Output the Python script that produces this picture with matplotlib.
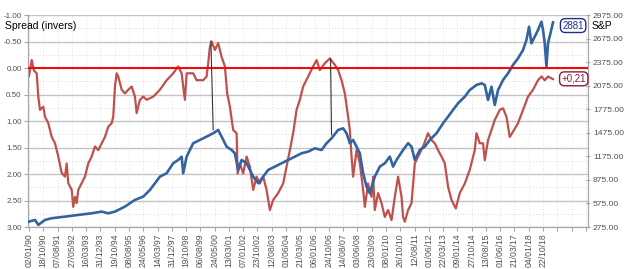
# Yield curve spread (inverted) vs S&P 500

import numpy as np
import matplotlib.pyplot as plt
from matplotlib.patches import ConnectionPatch
import matplotlib.transforms as mtransforms

plt.rcParams['font.family'] = ['Liberation Sans', 'DejaVu Sans']

# x axis = trading-day index, labelled every 200 days
tick_labels = ["02/01/90", "18/10/90", "07/08/91", "27/05/92", "16/03/93", "31/12/93",
               "19/10/94", "08/08/95", "24/05/96", "14/03/97", "31/12/97", "19/10/98",
               "06/08/99", "24/05/00", "13/03/01", "07/01/02", "23/10/02", "12/08/03",
               "01/06/04", "21/03/05", "06/01/06", "24/10/06", "14/08/07", "03/06/08",
               "23/03/09", "08/01/10", "26/10/10", "12/08/11", "01/06/12", "22/03/13",
               "09/01/14", "27/10/14", "13/08/15", "01/06/16", "21/03/17", "04/01/18",
               "22/10/18"]

# 10y-2y spread (left axis, inverted)
spread_day = [0, 38, 70, 108, 130, 154, 200, 224, 270, 318, 364, 410, 458, 504, 528, 550,
              598, 620, 644, 668, 690, 738, 784, 830, 878, 924, 970, 1018, 1064, 1110, 1158,
              1180, 1204, 1228, 1250, 1298, 1344, 1390, 1438, 1484, 1508, 1554, 1600, 1648,
              1740, 1834, 1928, 2020, 2090, 2138, 2160, 2184, 2208, 2300, 2348, 2440, 2488,
              2510, 2534, 2558, 2604, 2650, 2698, 2744, 2776, 2814, 2860, 2908, 2922, 2954,
              3000, 3048, 3094, 3140, 3188, 3234, 3280, 3328, 3374, 3420, 3490, 3560, 3608,
              3654, 3700, 3748, 3794, 3840, 3910, 3980, 4028, 4074, 4144, 4214, 4284, 4330,
              4378, 4424, 4470, 4494, 4518, 4540, 4588, 4634, 4680, 4704, 4750, 4798, 4820,
              4844, 4890, 4938, 4984, 5030, 5078, 5124, 5170, 5218, 5240, 5264, 5310, 5358,
              5404, 5450, 5520, 5590, 5638, 5684, 5730, 5778, 5824, 5870, 5918, 5978, 6034,
              6104, 6174, 6244, 6268, 6314, 6360, 6384, 6430, 6478, 6524, 6594, 6640, 6688,
              6734, 6780, 6850, 6920, 6990, 7060, 7130, 7178, 7224, 7270, 7340]
spread_val = [0.15, -0.15, 0.05, 0.10, 0.54, 0.79, 0.73, 0.92, 1.04, 1.30, 1.42, 1.67, 1.98,
              2.05, 1.80, 2.17, 2.30, 2.62, 2.43, 2.55, 2.30, 2.17, 2.05, 1.80, 1.67, 1.48,
              1.55, 1.42, 1.30, 1.11, 1.04, 0.92, 0.35, 0.10, 0.16, 0.41, 0.48, 0.41, 0.35,
              0.54, 0.85, 0.60, 0.54, 0.60, 0.54, 0.41, 0.23, 0.10, -0.03, 0.10, 0.35, 0.60,
              0.10, 0.10, 0.23, 0.23, 0.16, -0.09, -0.40, -0.50, -0.34, -0.47, -0.21, -0.03,
              0.48, 0.73, 1.17, 1.23, 1.99, 1.80, 1.99, 1.67, 1.86, 2.30, 2.05, 2.18, 2.05,
              2.30, 2.68, 2.49, 2.36, 2.18, 1.86, 1.55, 1.23, 0.79, 0.60, 0.35, 0.16, -0.03,
              -0.15, 0.04, -0.09, -0.18, -0.06, 0.04, 0.23, 0.48, 0.92, 1.17, 1.67, 2.05,
              1.55, 1.80, 2.30, 2.62, 2.18, 2.43, 2.05, 2.68, 2.36, 2.55, 2.81, 2.68, 2.87,
              2.43, 2.05, 2.43, 2.81, 2.90, 2.68, 2.55, 1.80, 1.67, 1.48, 1.23, 1.36, 1.42,
              1.55, 1.67, 1.80, 2.24, 2.49, 2.65, 2.36, 2.18, 1.92, 1.55, 1.23, 1.42, 1.42,
              1.74, 1.36, 1.17, 0.98, 0.79, 0.76, 0.92, 1.30, 1.20, 1.04, 0.79, 0.54, 0.41,
              0.23, 0.16, 0.23, 0.16, 0.21]

# S&P 500 (right axis)
spx_day = [0, 84, 130, 224, 318, 504, 690, 878, 1018, 1110, 1204, 1344, 1484, 1600, 1694,
           1834, 1928, 2020, 2090, 2138, 2160, 2208, 2300, 2394, 2488, 2580, 2650, 2698, 2768,
           2838, 2884, 2930, 2978, 3048, 3140, 3210, 3280, 3350, 3444, 3538, 3630, 3724, 3818,
           3910, 4004, 4098, 4168, 4238, 4330, 4400, 4448, 4494, 4540, 4588, 4634, 4680, 4728,
           4774, 4844, 4914, 4984, 5054, 5100, 5148, 5240, 5310, 5358, 5404, 5474, 5544, 5614,
           5708, 5800, 5870, 5940, 6010, 6104, 6174, 6268, 6338, 6384, 6430, 6478, 6524, 6570,
           6640, 6710, 6780, 6850, 6920, 6968, 7004, 7038, 7084, 7130, 7178, 7200, 7224, 7248,
           7270, 7304, 7340]
spx_val = [344, 365, 302, 365, 387, 407, 429, 450, 471, 450, 471, 535, 620, 662, 747, 917,
           960, 1087, 1129, 1171, 960, 1171, 1342, 1384, 1426, 1469, 1511, 1426, 1298, 1256,
           1214, 1002, 1129, 1087, 917, 833, 917, 1002, 1044, 1087, 1129, 1171, 1214, 1235,
           1277, 1256, 1342, 1405, 1511, 1532, 1469, 1342, 1384, 1298, 1214, 960, 790, 705,
           917, 1044, 1087, 1171, 1044, 1129, 1256, 1342, 1298, 1129, 1256, 1298, 1384, 1469,
           1596, 1681, 1766, 1851, 1935, 2020, 2084, 2105, 2084, 1893, 2062, 1829, 2020, 2147,
           2233, 2339, 2424, 2529, 2657, 2826, 2615, 2699, 2784, 2890, 2784, 2615, 2317, 2615,
           2742, 2881]

# markers joining the spread peaks to the S&P tops
links = [(2548, -0.51, 2580, 1511), (4224, -0.18, 4238, 1447)]

fig = plt.figure(figsize=(6.25, 2.69), dpi=100)
ax = fig.add_axes([0.0448, 0.1561, 0.896, 0.7881])
ax2 = ax.twinx()

# left axis, inverted
ax.set_ylim(3.0, -1.0)
ax.set_yticks(np.arange(-1.0, 3.01, 0.5))
ax.set_yticklabels(["%.2f" % v for v in np.arange(-1.0, 3.01, 0.5)])
ax.set_yticks(np.arange(-0.75, 3.0, 0.5), minor=True)
ax.grid(True, which="major", axis="y", color="#c4c4c4", lw=1)
ax.grid(True, which="minor", axis="y", color="#d8d8d8", lw=0.7, ls=(0, (1, 2)))

ax.set_xlim(-14, 7830)
ticks = np.arange(0, 7801, 200)
ax.set_xticks(ticks)
ax.set_xticklabels(tick_labels + [""] * (len(ticks) - len(tick_labels)), rotation=90)
ax.grid(True, which="major", axis="x", color="#e0e0e0", lw=0.7, ls=(0, (1, 2)))
ax.set_axisbelow(True)

ax2.set_ylim(275, 2975)
rt = np.arange(275, 2976, 300)
ax2.set_yticks(rt)
ax2.set_yticklabels(["%.2f" % v for v in rt])

for a in (ax, ax2):
    for s in a.spines.values():
        s.set_color("#a6a6a6")
        s.set_linewidth(0.8)
    a.spines["top"].set_visible(False)
ax.tick_params(axis="y", labelsize=5.8, colors="#a6a6a6", labelcolor="#505050", length=3, width=0.8, pad=1.5)
ax.tick_params(axis="y", which="minor", length=0)
ax.tick_params(axis="x", labelsize=6.2, colors="#a6a6a6", labelcolor="#505050", length=3, width=0.8, pad=1.5)
ax2.tick_params(axis="y", labelsize=6.1, colors="#a6a6a6", labelcolor="#505050", length=3, width=0.8,
                direction="inout", pad=2)

ax.plot(spread_day, spread_val, color="#c0504d", lw=1.6, zorder=3)
ax2.plot(spx_day, spx_val, color="#34649f", lw=1.9, zorder=3)

# zero line of the spread drawn above both series
trans = mtransforms.blended_transform_factory(ax2.transAxes, ax.transData)
ax2.plot([0, 1], [0, 0], color="#ff0000", lw=1.4, transform=trans, zorder=4)

for x1, y1, x2, y2 in links:
    con = ConnectionPatch(xyA=(x1, y1), coordsA=ax.transData, xyB=(x2, y2), coordsB=ax2.transData,
                          color="#333333", lw=0.8, zorder=5)
    fig.add_artist(con)

fig.text(0.008, 0.905, "Spread (invers)", fontsize=7.5, color="black", va="center")
fig.text(0.947, 0.905, "S&P", fontsize=7.5, color="black", va="center")
fig.text(0.917, 0.905, "%d" % spx_val[-1], fontsize=7, color="#1f2f8f", ha="center", va="center",
         bbox=dict(boxstyle="round,pad=0.2,rounding_size=0.5", fc="white", ec="#1f2f8f", lw=1))
fig.text(0.918, 0.707, ("+%.2f" % spread_val[-1]).replace(".", ","), fontsize=7, color="#8b1c3c",
         ha="center", va="center",
         bbox=dict(boxstyle="round,pad=0.2,rounding_size=0.5", fc="white", ec="#8b1c3c", lw=1))

plt.savefig("out.png", dpi=100)
